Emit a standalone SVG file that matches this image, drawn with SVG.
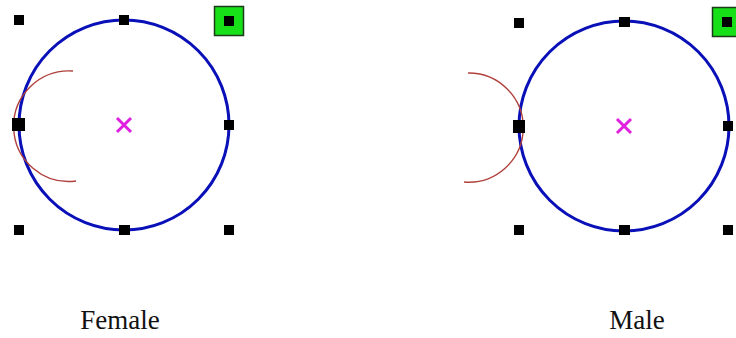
<svg xmlns="http://www.w3.org/2000/svg" width="736" height="338" viewBox="0 0 736 338">
<style>
.ring{fill:none;stroke:#0a10b8;stroke-width:3}
.arc{fill:none;stroke:#b0403c;stroke-width:1.4}
.h{fill:#000}
.sel{fill:#18e018;stroke:#1a3a1a;stroke-width:1.5}
.x{stroke:#e020e0;stroke-width:3;stroke-linecap:butt}
.lbl{font-family:"Liberation Serif","Times New Roman",serif;font-size:27px;fill:#111;text-anchor:middle}
</style>
<rect width="736" height="338" fill="#fff"/>
<g id="female">
<circle class="ring" cx="124" cy="125" r="105"/>
<path class="arc" d="M73,71 A55.3,55.3 0 1 0 76,181"/>
<path class="x" d="M117,118 L131,132 M131,118 L117,132"/>
<rect class="sel" x="214.5" y="6.5" width="29" height="29"/>
<rect class="h" x="224" y="16" width="10" height="10"/>
<rect class="h" x="14" y="15" width="10" height="10"/>
<rect class="h" x="119" y="15" width="10" height="10"/>
<rect class="h" x="12" y="118" width="13" height="13"/>
<rect class="h" x="224" y="120" width="10" height="10"/>
<rect class="h" x="14" y="225" width="10" height="10"/>
<rect class="h" x="119" y="225" width="11" height="10"/>
<rect class="h" x="224" y="225" width="10" height="10"/>
</g>
<g id="male">
<circle class="ring" cx="624" cy="126" r="105"/>
<path class="arc" d="M468,73 A54.6,54.6 0 1 1 464,182"/>
<path class="x" d="M617,119 L631,133 M631,119 L617,133"/>
<rect class="sel" x="712.5" y="7.5" width="29" height="29"/>
<rect class="h" x="722" y="17" width="10" height="10"/>
<rect class="h" x="514" y="18" width="10" height="10"/>
<rect class="h" x="619" y="17" width="11" height="10"/>
<rect class="h" x="513" y="120" width="12" height="13"/>
<rect class="h" x="723" y="121" width="10" height="10"/>
<rect class="h" x="514" y="225" width="10" height="10"/>
<rect class="h" x="619" y="225" width="11" height="10"/>
<rect class="h" x="723" y="225" width="10" height="10"/>
</g>
<g id="connectors"/>
<g id="labels">
<text class="lbl" x="120" y="329">Female</text>
<text class="lbl" x="637" y="329">Male</text>
</g>
</svg>
